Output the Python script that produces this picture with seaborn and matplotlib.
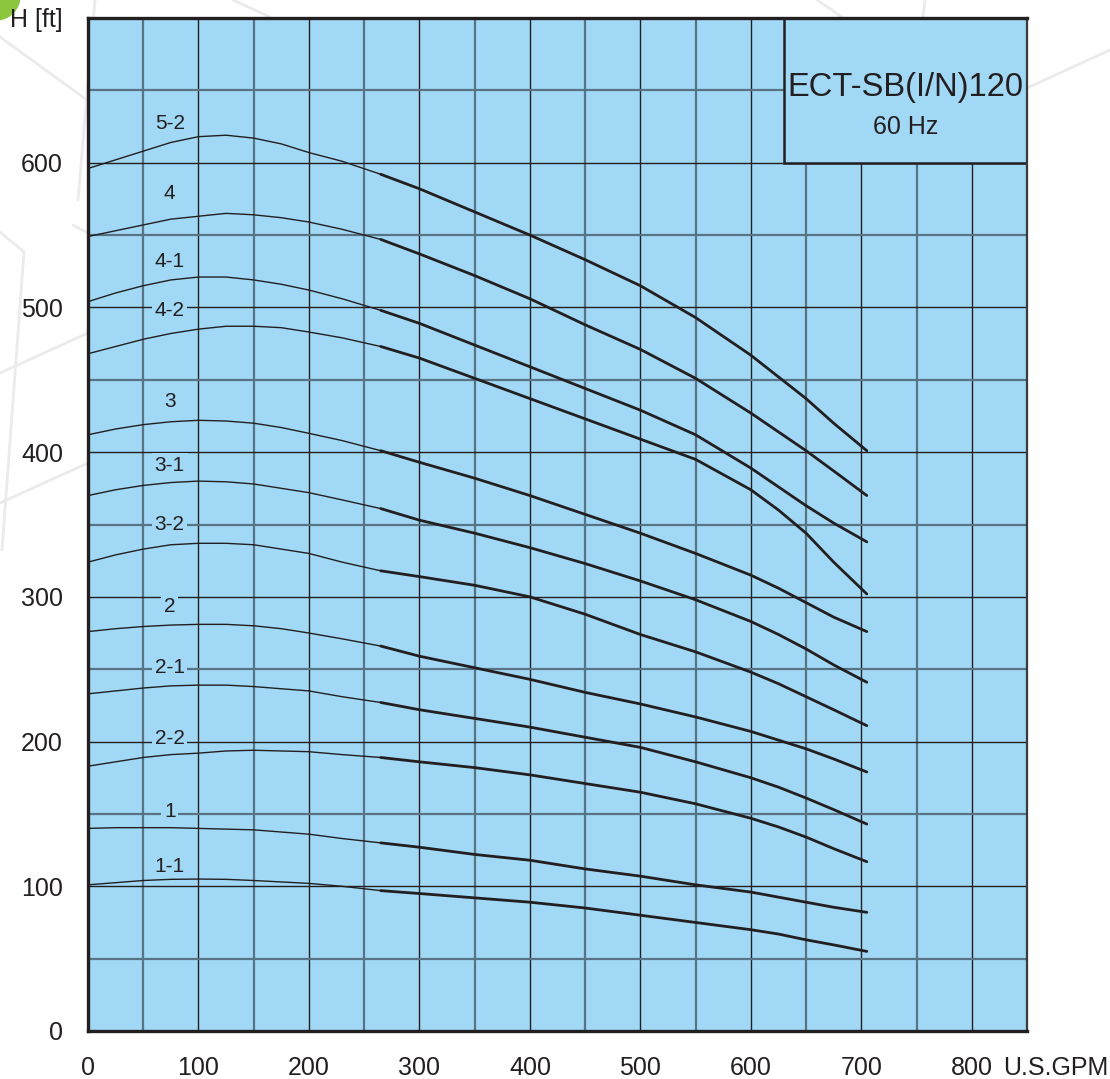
import numpy as np
import pandas as pd
import matplotlib.pyplot as plt
import seaborn as sns
from matplotlib.patches import Rectangle, Ellipse
from matplotlib.lines import Line2D
from matplotlib.ticker import MultipleLocator

sns.set_style("white")
plt.rcParams['font.family'] = ['Liberation Sans', 'DejaVu Sans']

# flow points (U.S.GPM) where the curves were read
flow = [0, 25, 50, 75, 100, 125, 150, 175, 200, 230, 265, 300, 350, 400,
        450, 500, 550, 600, 625, 650, 675, 705]

# head (ft) for each model curve
head_5_2 = [596, 602, 608, 614, 618, 619, 617, 613, 607, 601, 592, 582, 566, 550,
            533, 515, 493, 467, 452, 437, 420, 401]
head_4 = [549, 553, 557, 561, 563, 565, 564, 562, 559, 554, 547, 537, 522, 506,
          488, 471, 451, 427, 414, 401, 387, 370]
head_4_1 = [504, 510, 515, 519, 521, 521, 519, 516, 512, 506, 498, 489, 474, 459,
            444, 429, 412, 389, 376, 363, 351, 338]
head_4_2 = [468, 473, 478, 482, 485, 487, 487, 486, 483, 479, 473, 465, 451, 437,
            423, 409, 395, 374, 360, 344, 324, 302]
head_3 = [412, 416, 419, 421, 422, 421.5, 420, 417, 413, 408, 401, 393, 382, 370,
          357, 344, 330, 315, 306, 296, 286, 276]
head_3_1 = [370, 374, 377, 379, 380, 379.5, 378, 375, 372, 367, 361, 353, 344, 334,
            323, 311, 298, 283, 274, 264, 253, 241]
head_3_2 = [324, 329, 333, 336, 337, 337, 336, 333, 330, 324, 318, 314, 308, 300,
            288, 274, 262, 248, 240, 231, 222, 211]
head_2 = [276, 278, 279.5, 280.5, 281, 281, 280, 278, 275, 271, 266, 259, 251, 243,
          234, 226, 217, 207, 201, 195, 188, 179]
head_2_1 = [233, 235, 237, 238.5, 239, 239, 238, 236.5, 235, 231, 227, 222, 216, 210,
            203, 196, 186, 175, 168.5, 161, 153, 143]
head_2_2 = [183, 186, 189, 191, 192, 193.5, 194, 193.5, 193, 191, 189, 186, 182, 177,
            171, 165, 157, 147, 141, 134, 126, 117]
head_1 = [140, 140.5, 140.5, 140.5, 140, 139.5, 139, 137.5, 136, 133, 130, 127, 122, 118,
          112, 107, 101, 96, 92.5, 89, 85.5, 82]
head_1_1 = [101, 102.5, 104, 104.8, 105, 104.8, 104, 103, 102, 100, 97, 95, 92, 89,
            85, 80, 75, 70, 67, 63, 59.5, 55]

models = ['5-2', '4', '4-1', '4-2', '3', '3-1', '3-2', '2', '2-1', '2-2', '1', '1-1']
heads = [head_5_2, head_4, head_4_1, head_4_2, head_3, head_3_1, head_3_2,
         head_2, head_2_1, head_2_2, head_1, head_1_1]

# curve label positions
label_x = 74
label_y = [627, 579, 532, 498, 435, 391, 350, 293, 251, 202, 152, 114]

# flow where the curve becomes the bold (recommended) range
bold_from = 265

BLUE = '#a0d8f5'
INK = '#231f20'

fig = plt.figure(figsize=(11.1, 10.79), dpi=100)

# faint watermark lines in the page background (pixel coords)
W, H = 1110, 1079
wm = [((0, 37), (87, 100)), ((95, 0), (78, 200)), ((73, 225), (88, 233)),
      ((0, 232), (24, 252)), ((24, 252), (2, 550)), ((0, 373), (88, 333)),
      ((0, 503), (88, 463)), ((1027, 88), (1110, 50)), ((817, 0), (842, 17)),
      ((925, 0), (923, 17)), ((233, 0), (270, 17))]
for (x0, y0), (x1, y1) in wm:
    fig.add_artist(Line2D([x0 / W, x1 / W], [1 - y0 / H, 1 - y1 / H],
                          transform=fig.transFigure, color='#ebebeb', lw=2, zorder=0))
fig.add_artist(Ellipse((-4 / W, 1 + 4 / H), 48 / W, 48 / H,
                       transform=fig.transFigure, color='#8cc63f', zorder=0))

ax = fig.add_axes([88 / W, 1 - 1031 / H, 939 / W, 1013 / H])
ax.set_facecolor(BLUE)
ax.set_xlim(0, 850)
ax.set_ylim(0, 700)

ax.set_xticks(list(range(0, 900, 100)) + [850])
ax.set_xticklabels([str(v) for v in range(0, 900, 100)] + [''])
ax.set_yticks(range(0, 800, 100))
ax.set_yticklabels([str(v) for v in range(0, 700, 100)] + ['H [ft]'])
ax.xaxis.set_minor_locator(MultipleLocator(50))
ax.yaxis.set_minor_locator(MultipleLocator(50))
ax.tick_params(which='major', direction='out', length=13, width=2.2, color=INK,
               labelsize=18, labelcolor=INK, pad=5)
ax.tick_params(which='minor', length=0)
ax.set_axisbelow(True)
ax.grid(which='major', color=INK, lw=1.0)
ax.grid(which='minor', color='#587384', lw=1.6)

for side in ['left', 'bottom', 'top']:
    ax.spines[side].set_color(INK)
    ax.spines[side].set_linewidth(2.4)
ax.spines['right'].set_color('#3a3a3a')
ax.spines['right'].set_linewidth(1.6)

# title box
ax.add_patch(Rectangle((630, 600), 220, 100, facecolor=BLUE, edgecolor=INK,
                       lw=1.8, zorder=1))
ax.text(740, 652, 'ECT-SB(I/N)120', ha='center', va='center', fontsize=23.5,
        color=INK, zorder=3)
ax.text(740, 625, '60 Hz', ha='center', va='center', fontsize=18, color=INK, zorder=3)

ax.annotate('U.S.GPM', xy=(828, 0), xycoords=('data', 'axes fraction'),
            xytext=(0, -18), textcoords='offset points', ha='left', va='top',
            fontsize=18, color=INK, annotation_clip=False)

rows = []
for m, h in zip(models, heads):
    for f, v in zip(flow, h):
        rows.append((m, f, v))
df = pd.DataFrame(rows, columns=['model', 'flow', 'head'])

for m, lab_y in zip(models, label_y):
    d = df[df['model'] == m]
    thin = d[d['flow'] <= bold_from]
    bold = d[d['flow'] >= bold_from]
    sns.lineplot(data=thin, x='flow', y='head', ax=ax, color=INK, lw=1.0,
                 sort=False, estimator=None, zorder=2)
    sns.lineplot(data=bold, x='flow', y='head', ax=ax, color=INK, lw=2.0,
                 sort=False, estimator=None, zorder=2)
    ax.text(label_x, lab_y, m, ha='center', va='center', fontsize=15, color=INK,
            bbox=dict(facecolor=BLUE, edgecolor='none', pad=2), zorder=3)

ax.set_xlabel('')
ax.set_ylabel('')

fig.savefig('out.png', dpi=100)
